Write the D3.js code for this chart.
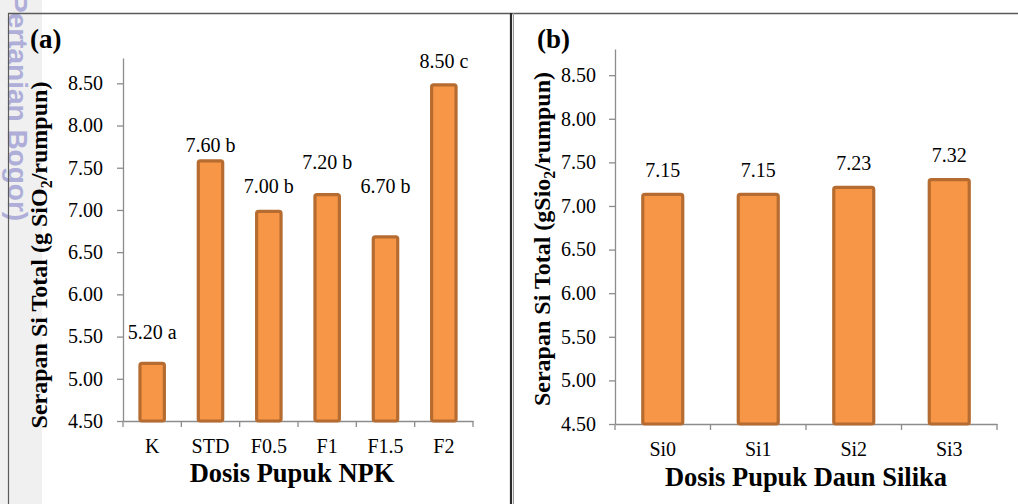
<!DOCTYPE html>
<html><head><meta charset="utf-8">
<script src="https://cdn.jsdelivr.net/npm/d3@7/dist/d3.min.js"></script>
<style>body{margin:0;background:#fff}svg{display:block}</style>
</head><body><svg id="c" width="1018" height="504"></svg>
<script>
// ---- data ----
const catsA = ["K","STD","F0.5","F1","F1.5","F2"];
const valsA = [5.20,7.60,7.00,7.20,6.70,8.50];
const lettersA = ["a","b","b","b","b","c"];
const catsB = ["Si0","Si1","Si2","Si3"];
const valsB = [7.15,7.15,7.23,7.32];
const yTicks = [4.5,5.0,5.5,6.0,6.5,7.0,7.5,8.0,8.5];
// label gaps (pixels above bar top) as placed in the original
const gapA = [23,7,17,24,42,15];
const gapB = [16,16,16,16];

const svg = d3.select("#c");
const serif = "'Liberation Serif','Times New Roman',serif";
const FILL = "#f79646", STROKE = "#b66c30", AX = "#8c8c8c";

// background strip + watermark + frame
svg.append("rect").attr("x",0).attr("y",0).attr("width",42).attr("height",504).attr("fill","#f0f0f0");
svg.append("text").attr("transform","translate(8,-6) rotate(90)")
  .attr("font-family","'Liberation Sans',Arial,sans-serif").attr("font-size",28).attr("font-weight","bold")
  .attr("fill","#aeaed8").text("Pertanian Bogor)");
svg.append("line").attr("x1",8).attr("x2",1018).attr("y1",13.5).attr("y2",13.5).attr("stroke","#5a5a5a").attr("stroke-width",1.5);
svg.append("line").attr("x1",8.5).attr("x2",8.5).attr("y1",13).attr("y2",504).attr("stroke","#5a5a5a").attr("stroke-width",1.2);
svg.append("line").attr("x1",511).attr("x2",511).attr("y1",13).attr("y2",504).attr("stroke","#2a2a2a").attr("stroke-width",2.2);
svg.append("line").attr("x1",513.5).attr("x2",513.5).attr("y1",13).attr("y2",504).attr("stroke","#9a9a9a").attr("stroke-width",1);

function panel(o){
  const g = svg.append("g");
  const x = d3.scaleBand().domain(o.cats).range([o.x0,o.x1]).padding(0);
  const y = d3.scaleLinear().domain([4.5,8.8]).range([o.y0,o.y1]);
  // y axis
  const ya = g.append("g").attr("transform",`translate(${o.x0},0)`)
    .call(d3.axisLeft(y).tickValues(yTicks).tickFormat(d3.format(".2f")).tickSize(6).tickSizeOuter(0).tickPadding(o.tp));
  ya.select(".domain").attr("stroke",AX).attr("stroke-width",1.3);
  ya.selectAll(".tick line").attr("stroke",AX).attr("stroke-width",1.3);
  ya.selectAll("text").attr("font-family",serif).attr("font-size",20).attr("fill","#000");
  // x axis
  const xa = g.append("g").attr("transform",`translate(0,${o.y0})`)
    .call(d3.axisBottom(x).tickSize(0).tickPadding(o.xp));
  xa.select(".domain").attr("stroke",AX).attr("stroke-width",1.3);
  xa.selectAll("text").attr("font-family",serif).attr("font-size",20).attr("fill","#000");
  // boundary ticks
  const bounds = o.cats.map(c=>x(c)).concat([x(o.cats[o.cats.length-1])+x.bandwidth()]);
  g.selectAll(".bt").data(bounds).join("line").attr("x1",d=>d).attr("x2",d=>d)
    .attr("y1",o.y0).attr("y2",o.y0+6).attr("stroke",AX).attr("stroke-width",1.3);
  // bars
  const bw = x.bandwidth()*o.bf;
  const data = o.cats.map((c,i)=>({c,v:o.vals[i],i}));
  g.selectAll(".bar").data(data).join("rect")
    .attr("x",d=>x(d.c)+(x.bandwidth()-bw)/2+1.5).attr("width",bw-3)
    .attr("y",d=>y(d.v)+1.5).attr("height",d=>o.y0-y(d.v)-1.5)
    .attr("rx",2).attr("fill",FILL).attr("stroke",STROKE).attr("stroke-width",3.2);
  // labels
  g.selectAll(".lab").data(data).join("text")
    .attr("x",d=>x(d.c)+x.bandwidth()/2).attr("y",d=>y(d.v)-o.gaps[d.i])
    .attr("text-anchor","middle").attr("font-family",serif).attr("font-size",20)
    .text(d=>d3.format(".2f")(d.v)+(o.letters?" "+o.letters[d.i]:""));
  // titles
  svg.append("text").attr("x",o.px).attr("y",48).attr("font-family",serif).attr("font-weight","bold")
    .attr("font-size",27).text(o.plabel);
  svg.append("text").attr("x",o.xtx).attr("y",o.xty).attr("text-anchor","middle").attr("font-family",serif)
    .attr("font-weight","bold").attr("font-size",26.5).text(o.xtitle);
  const yt = svg.append("text").attr("transform",`translate(${o.ytx},${o.yty}) rotate(-90)`)
    .attr("text-anchor","middle").attr("font-family",serif).attr("font-weight","bold").attr("font-size",24);
  yt.append("tspan").text(o.yt1);
  yt.append("tspan").attr("font-size",16).attr("dy",5).text("2");
  yt.append("tspan").attr("dy",-5).text("/rumpun)");
}

panel({cats:catsA,vals:valsA,letters:lettersA,gaps:gapA,x0:123,x1:473,y0:421,y1:58,tp:14,xp:18,bf:0.47,
  px:30,plabel:"(a)",xtx:292,xty:482,xtitle:"Dosis Pupuk NPK",ytx:47,yty:255,yt1:"Serapan Si Total (g SiO"});
panel({cats:catsB,vals:valsB,letters:null,gaps:gapB,x0:615,x1:997,y0:424,y1:49,tp:13,xp:18,bf:0.45,
  px:537,plabel:"(b)",xtx:806,xty:486,xtitle:"Dosis Pupuk Daun Silika",ytx:550,yty:239,yt1:"Serapan Si Total (gSio"});
</script></body></html>
